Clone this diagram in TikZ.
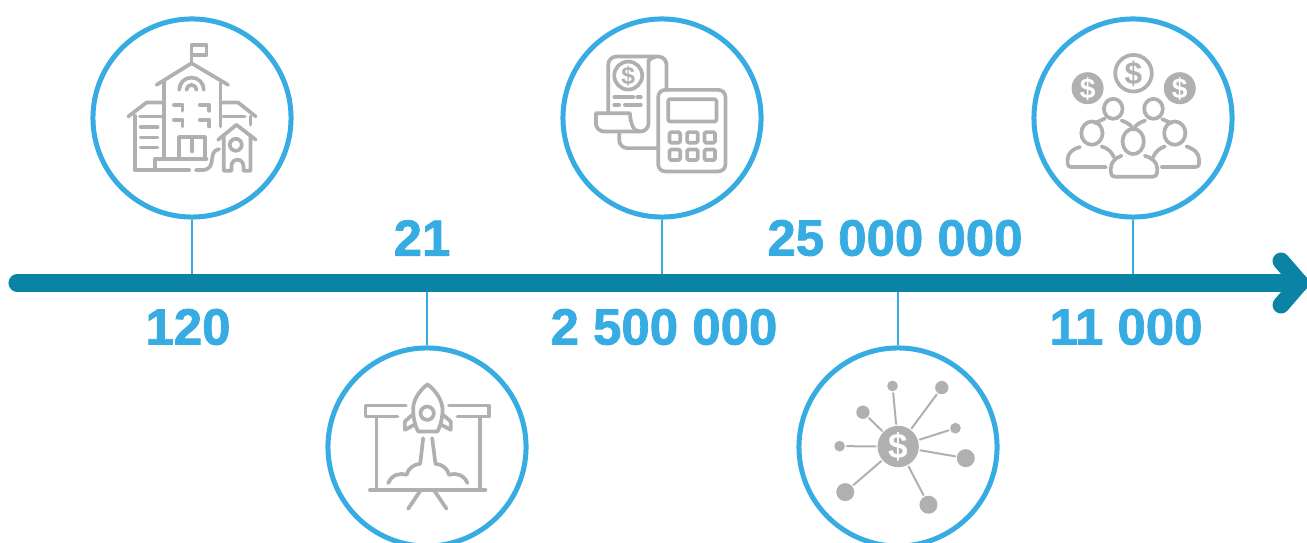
\documentclass[tikz,border=0pt]{standalone}
\usepackage{fontspec}
\setmainfont{Liberation Sans}
\newfontfamily\amountfont{Liberation Sans}[BoldFeatures={FakeBold=1.5}]
\definecolor{ringblue}{HTML}{36ACE3}
\definecolor{axisteal}{HTML}{0A83A5}
\definecolor{icongray}{HTML}{B0B0B0}
\tikzset{
	badge/.style={circle, draw=ringblue, line width=.05cm, fill=white, inner sep=0pt, minimum size=1.98cm},
	stem/.style={draw=ringblue, line width=.02cm},
	axisline/.style={draw=axisteal, line width=.17cm, line cap=round, line join=round},
	amount/.style={text=ringblue, inner sep=0pt, font=\fontsize{14.5}{16}\amountfont\bfseries},
	iconframe/.style 2 args={shift={(#1,#2)}, x=.003333cm, y=-.003333cm,
		draw=icongray, line width=.037cm, line cap=round, line join=round},
	dollar/.style={text=#1, inner sep=0pt, font=\fontsize{7}{8}\selectfont\bfseries},
	leaf/.style={circle, fill=icongray, inner sep=0pt, minimum size=#1},
}
\begin{document}
\begin{tikzpicture}[x=.01cm, y=-.01cm]
\useasboundingbox (0,0) rectangle (1307,543);
\clip (0,0) rectangle (1307,543);

% axis and its stops
\coordinate (axisstart) at (17,283);
\coordinate (axisend) at (1300,283);
\coordinate (armtop) at (1281,261);
\coordinate (armbottom) at (1281,305);
\coordinate (stop1) at (192,283);
\coordinate (stop2) at (427,283);
\coordinate (stop3) at (662,283);
\coordinate (stop4) at (898,283);
\coordinate (stop5) at (1133,283);

\node[badge] (school) at (192,118) {};
\node[badge] (rocket) at (427,447) {};
\node[badge] (budget) at (662,118) {};
\node[badge] (network) at (898,447) {};
\node[badge] (people) at (1133,118) {};

\draw[stem] (school) -- (stop1);
\draw[stem] (rocket) -- (stop2);
\draw[stem] (budget) -- (stop3);
\draw[stem] (network) -- (stop4);
\draw[stem] (people) -- (stop5);

\draw[axisline] (axisstart) -- (axisend);
\draw[axisline] (armtop) -- (axisend) -- (armbottom);

\node[amount] (schoolcount) at (188,327) {120};
\node[amount] (rocketcount) at (422,238) {21};
\node[amount] (budgetcount) at (664,327) {2 500 000};
\node[amount] (networkcount) at (895,238) {25 000 000};
\node[amount] (peoplecount) at (1126,327) {11 000};

% school
\begin{scope}[iconframe={90}{10}]
\draw (305,155) -- (305,105) -- (350,105) -- (350,135) -- (305,135);
\draw (200,225) -- (305,160) -- (415,225);
\draw (222,215) -- (222,445);
\draw (392,220) -- (392,350);
\draw (268,240) arc (180:360:37);
\draw (290,240) arc (180:360:15);
\draw (252,285) -- (278,285) -- (278,303);
\draw (330,285) -- (358,285) -- (358,303);
\draw (252,330) -- (278,330) -- (278,350);
\draw (330,330) -- (358,330) -- (358,350);
\draw (268,440) -- (268,382) -- (345,382) -- (345,445);
\draw (307,385) -- (307,425);
\draw (115,320) -- (170,278) -- (218,278);
\draw (150,320) -- (215,320);
\draw (135,318) -- (135,481) -- (298,481);
\draw (152,352) -- (203,352);
\draw (152,383) -- (203,383);
\draw (152,413) -- (203,413);
\draw (195,481) -- (195,447) -- (350,447);
\draw (318,481) -- (340,481) .. controls (385,475) and (350,425) .. (388,418);
\draw (395,278) -- (445,278) -- (498,320);
\draw (482,320) -- (482,345);
\draw (400,320) -- (465,320);
\draw (385,390) -- (440,345) -- (498,390);
\draw (402,378) -- (402,483) -- (425,483) -- (425,468) arc (180:360:18) -- (461,483) -- (482,483) -- (482,378);
\draw (438,405) circle (18);
\end{scope}

% rocket
\begin{scope}[iconframe={325}{340}]
\draw (308,133) .. controls (280,155) and (262,185) .. (265,215) .. controls (266,240) and (272,260) .. (280,275)
	-- (338,275) .. controls (346,260) and (352,240) .. (353,215) .. controls (355,185) and (336,155) .. (308,133) -- cycle;
\draw (307,220) circle (20);
\draw (262,225) -- (240,245) -- (240,270) -- (268,255);
\draw (355,225) -- (378,245) -- (378,270) -- (350,255);
\draw (243,197) -- (122,197) -- (122,230) -- (218,230);
\draw (372,197) -- (492,197) -- (492,230) -- (398,230);
\draw (155,232) -- (155,450);
\draw (465,232) -- (465,450);
\draw (135,450) -- (482,450);
\draw (285,455) -- (250,507);
\draw (330,455) -- (365,507);
\draw (295,295) -- (286,372);
\draw (322,295) -- (332,372);
\draw (190,430) .. controls (200,405) and (225,398) .. (245,405) .. controls (250,385) and (268,373) .. (286,372);
\draw (428,430) .. controls (418,405) and (393,398) .. (373,405) .. controls (368,385) and (350,373) .. (332,372);
\end{scope}

% receipt and calculator
\begin{scope}[iconframe={560}{10}]
\draw[rounded corners=.07cm] (295,240) rectangle (497,485);
\draw[rounded corners=.02cm] (325,268) rectangle (470,335);
\draw[rounded corners=.015cm] (329,367) rectangle (361,399);
\draw[rounded corners=.015cm] (382,367) rectangle (414,399);
\draw[rounded corners=.015cm] (434,367) rectangle (466,399);
\draw[rounded corners=.015cm] (329,419) rectangle (361,451);
\draw[rounded corners=.015cm] (382,419) rectangle (414,451);
\draw[rounded corners=.015cm] (434,419) rectangle (466,451);
\draw[rounded corners=.08cm] (145,305) -- (145,140) -- (320,140) -- (320,240);
\draw[rounded corners=.08cm] (285,141) .. controls (272,144) and (266,155) .. (266,175) -- (266,365) -- (108,365) -- (108,310);
\draw (108,310) -- (210,310) .. controls (212,345) and (222,365) .. (240,365);
\draw[rounded corners=.08cm] (178,372) -- (178,415) -- (295,415);
\draw (205,197) circle (42);
\node[dollar=icongray] (receiptmark) at (205,199) {\$};
\draw (163,262) -- (220,262);
\draw (232,262) -- (243,262);
\draw (163,285) -- (178,285);
\draw (195,285) -- (243,285);
\end{scope}

% hub and its leaves
\begin{scope}[iconframe={795}{340}]
\node[leaf=.413cm] (hub) at (310,320) {};
\node[leaf=.107cm] (leaf1) at (293,138) {};
\node[leaf=.133cm] (leaf2) at (441,143) {};
\node[leaf=.133cm] (leaf3) at (204,217) {};
\node[leaf=.107cm] (leaf4) at (482,265) {};
\node[leaf=.18cm] (leaf5) at (513,355) {};
\node[leaf=.107cm] (leaf6) at (134,319) {};
\node[leaf=.18cm] (leaf7) at (151,457) {};
\node[leaf=.18cm] (leaf8) at (401,495) {};
\draw[line width=.02cm] (hub) -- (leaf1);
\draw[line width=.02cm] (hub) -- (leaf2);
\draw[line width=.02cm] (hub) -- (leaf3);
\draw[line width=.02cm] (hub) -- (leaf4);
\draw[line width=.02cm] (hub) -- (leaf5);
\draw[line width=.02cm] (hub) -- (leaf6);
\draw[line width=.02cm] (hub) -- (leaf7);
\draw[line width=.02cm] (hub) -- (leaf8);
\node[dollar=white, font=\fontsize{10}{11}\selectfont\bfseries] (hubmark) at (310,322) {\$};
\end{scope}

% people and coins
\begin{scope}[iconframe={1030}{10}]
\draw (311,190) circle (55);
\node[dollar=icongray, font=\fontsize{9}{10}\selectfont\bfseries] (coinmark1) at (311,192) {\$};
\node[leaf=.32cm] (coin1) at (173,235) {};
\node[dollar=white, font=\fontsize{8}{9}\selectfont\bfseries] (coinmark2) at (173,237) {\$};
\node[leaf=.32cm] (coin2) at (450,235) {};
\node[dollar=white, font=\fontsize{8}{9}\selectfont\bfseries] (coinmark3) at (450,237) {\$};
\draw (250,297) ellipse [x radius=28, y radius=30];
\draw (371,297) ellipse [x radius=28, y radius=30];
\draw (186,370) ellipse [x radius=32, y radius=35];
\draw (435,370) ellipse [x radius=32, y radius=35];
\draw (310,395) ellipse [x radius=32, y radius=38];
\draw (195,340) -- (225,326);
\draw (425,340) -- (397,328);
\draw (275,332) .. controls (290,338) and (300,343) .. (306,352);
\draw (346,332) .. controls (331,338) and (321,343) .. (315,352);
\draw (150,412) .. controls (125,418) and (113,432) .. (113,450) -- (113,462) .. controls (113,469) and (118,472) .. (125,472) -- (228,472);
\draw (215,410) .. controls (232,415) and (245,425) .. (252,442);
\draw (470,410) .. controls (495,418) and (508,432) .. (508,450) -- (508,462) .. controls (508,469) and (503,472) .. (496,472) -- (395,472);
\draw (405,410) .. controls (390,415) and (377,425) .. (370,442);
\draw (275,438) .. controls (255,445) and (243,458) .. (243,475) -- (243,488) .. controls (243,497) and (248,501) .. (256,501)
	-- (368,501) .. controls (376,501) and (382,497) .. (382,488) -- (382,475) .. controls (382,458) and (368,445) .. (345,438);
\end{scope}
\end{tikzpicture}
\end{document}
